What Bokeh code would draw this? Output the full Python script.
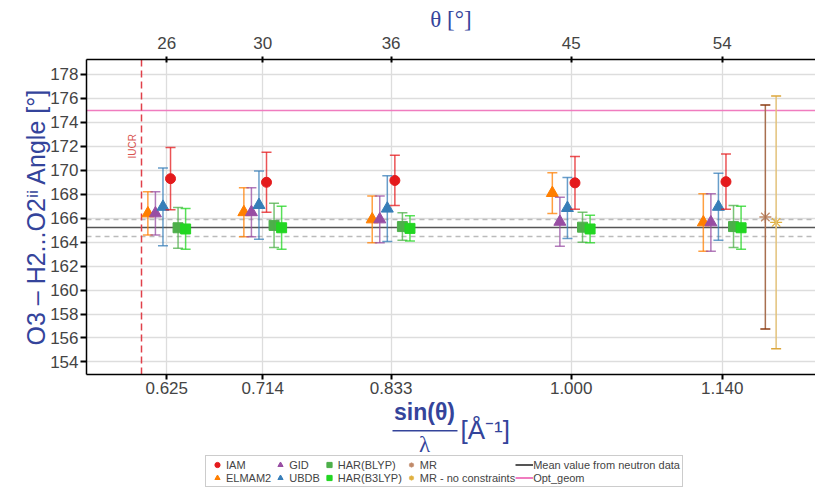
from bokeh.plotting import figure
from bokeh.layouts import column
from bokeh.models import (ColumnDataSource, Whisker, TeeHead, LinearAxis, FixedTicker,
                          Range1d, Legend, LegendItem, Label, BoxAnnotation, NumeralTickFormatter)
from bokeh.embed import file_html
from bokeh.resources import INLINE

# ---------------- data ----------------
sintl = [0.625, 0.714, 0.833, 1.000, 1.140]          # sin(theta)/lambda
theta_labels = ["26", "30", "36", "45", "54"]         # theta [deg]
y_ticks = [154, 156, 158, 160, 162, 164, 166, 168, 170, 172, 174, 176, 178]

iam = [169.3, 169.0, 169.15, 168.95, 169.05]
iam_err = [2.6, 2.5, 2.1, 2.2, 2.3]
elmam2 = [166.4, 166.5, 165.9, 168.1, 165.65]
elmam2_err = [1.8, 2.05, 1.95, 1.7, 2.4]
gid = [166.4, 166.5, 165.9, 165.7, 165.65]
gid_err = [1.8, 2.05, 1.95, 2.05, 2.4]
ubdb = [166.95, 167.1, 166.8, 166.85, 166.95]
ubdb_err = [3.25, 2.85, 2.75, 2.55, 2.8]
har_blyp = [165.2, 165.4, 165.3, 165.25, 165.3]
har_blyp_err = [1.7, 1.85, 1.15, 1.25, 1.75]
har_b3lyp = [165.1, 165.2, 165.15, 165.1, 165.2]
har_b3lyp_err = [1.7, 1.8, 1.05, 1.15, 1.8]

mr_x = [1.18]
mr = [166.1]
mr_err = [9.35]
mr_nc_x = [1.19]
mr_nc = [165.65]
mr_nc_err = [10.55]

mean_neutron = 165.2
mean_neutron_sd = 0.7
opt_geom = 175.0
iucr_limit = 0.602

dodge = 0.007

font = "Liberation Sans"
blue_txt = "#34449b"
NAN = float("nan")

# ---------------- main figure ----------------
p = figure(width=815, height=400, output_backend="svg", toolbar_location=None,
           x_range=Range1d(0.5506, 1.2265), y_range=Range1d(152.95, 179.25),
           min_border_left=86, min_border_right=0, min_border_top=59, min_border_bottom=26,
           title=None)
p.outline_line_color = None
p.background_fill_color = "white"
p.border_fill_color = "white"

p.xgrid.ticker = FixedTicker(ticks=sintl)
p.ygrid.ticker = FixedTicker(ticks=y_ticks)
for g in (p.xgrid, p.ygrid):
    g.grid_line_color = "#dddddd"
    g.grid_line_width = 1.3

xa = p.xaxis[0]
xa.ticker = FixedTicker(ticks=sintl)
xa.formatter = NumeralTickFormatter(format="0.000")
xa.major_label_text_font = font
xa.major_label_text_font_size = "17px"
xa.major_tick_out = 5
xa.major_tick_in = 0
xa.major_tick_line_width = 2
xa.major_label_standoff = 2
xa.minor_tick_line_color = None
xa.axis_line_width = 1.5

ya = p.yaxis[0]
ya.ticker = FixedTicker(ticks=y_ticks)
ya.major_label_text_font = font
ya.major_label_text_font_size = "17px"
ya.major_tick_out = 6
ya.major_tick_in = 0
ya.major_tick_line_width = 2
ya.major_label_standoff = 2
ya.minor_tick_line_color = None
ya.axis_line_width = 1.5
ya.axis_label = "O3 – H2...O2ⁱⁱ Angle [°]"
ya.axis_label_text_font = font
ya.axis_label_text_font_size = "25px"
ya.axis_label_text_font_style = "normal"
ya.axis_label_text_color = blue_txt
ya.axis_label_standoff = -3

ta = LinearAxis(ticker=FixedTicker(ticks=sintl),
                major_label_overrides={v: t for v, t in zip(sintl, theta_labels)},
                axis_label="θ [°]")
ta.major_label_text_font = font
ta.major_label_text_font_size = "17px"
ta.major_tick_out = 3
ta.major_tick_in = 3
ta.major_tick_line_width = 2
ta.major_label_standoff = 8
ta.minor_tick_line_color = None
ta.axis_line_width = 1.5
ta.axis_label_text_font = "Liberation Serif"
ta.axis_label_text_font_size = "23px"
ta.axis_label_text_font_style = "normal"
ta.axis_label_text_color = blue_txt
ta.axis_label_standoff = 2
p.add_layout(ta, "above")

# reference lines
c_dash, c_mean, c_opt = "#bbbbbb", "#555555", "#f07cbf"
p.hspan(y=[mean_neutron + mean_neutron_sd, mean_neutron - mean_neutron_sd],
        line_color=c_dash, line_width=1.5, line_dash="5 4")
p.hspan(y=[mean_neutron], line_color=c_mean, line_width=1.5)
p.hspan(y=[opt_geom], line_color=c_opt, line_width=1.6)
p.vspan(x=[iucr_limit], line_color="#e0404a", line_width=1.5, line_dash="7 4")
p.add_layout(Label(x=iucr_limit - 0.0085, y=172.0, text="IUCR", angle=90, angle_units="deg",
                   text_color="#d9534f", text_font=font, text_font_size="10px",
                   text_align="center", text_baseline="middle"))

series = [
    ("ELMAM2", elmam2, elmam2_err, "#ff7f00", "triangle", 12),
    ("GID", gid, gid_err, "#984ea3", "triangle", 12),
    ("UBDB", ubdb, ubdb_err, "#377eb8", "triangle", 12),
    ("IAM", iam, iam_err, "#e41a1c", "circle", 10),
    ("HAR(BLYP)", har_blyp, har_blyp_err, "#4daf4a", "square", 10),
    ("HAR(B3LYP)", har_b3lyp, har_b3lyp_err, "#22d622", "square", 10),
]
style = {}
for i, (name, vals, errs, col, mk, sz) in enumerate(series):
    off = (i - 2.5) * dodge
    xs = [x + off for x in sintl]
    src = ColumnDataSource(dict(x=xs, y=vals,
                                lower=[v - e for v, e in zip(vals, errs)],
                                upper=[v + e for v, e in zip(vals, errs)]))
    w = Whisker(source=src, base="x", lower="lower", upper="upper", dimension="height",
                line_color=col, line_alpha=0.75, line_width=1.5, level="glyph",
                upper_head=TeeHead(size=10, line_color=col, line_alpha=0.75, line_width=1.5),
                lower_head=TeeHead(size=10, line_color=col, line_alpha=0.75, line_width=1.5))
    p.add_layout(w)
    p.scatter("x", "y", source=src, marker=mk, size=sz, fill_color=col, line_color=col)
    style[name] = dict(marker=mk, fill_color=col, line_color=col)

for name, xs, vals, errs, col_line, col_cap, col_mk in [
        ("MR", mr_x, mr, mr_err, "#a86f50", "#8b3a10", "#c08a6a"),
        ("MR - no constraints", mr_nc_x, mr_nc, mr_nc_err, "#e3c27a", "#dca63a", "#e0b040")]:
    src = ColumnDataSource(dict(x=xs, y=vals,
                                lower=[v - e for v, e in zip(vals, errs)],
                                upper=[v + e for v, e in zip(vals, errs)]))
    w = Whisker(source=src, base="x", lower="lower", upper="upper", dimension="height",
                line_color=col_line, line_width=1.5, level="glyph",
                upper_head=TeeHead(size=10, line_color=col_cap, line_width=1.5),
                lower_head=TeeHead(size=10, line_color=col_cap, line_width=1.5))
    p.add_layout(w)
    p.scatter("x", "y", source=src, marker="asterisk", size=12, line_color=col_mk, line_width=1.3)
    style[name] = dict(marker="asterisk", line_color=col_mk, line_width=1.3)

# ---------------- lower strip: x-axis title (fraction) + legend ----------------
H2 = 88
q = figure(width=815, height=H2, output_backend="svg", toolbar_location=None,
           x_range=Range1d(86, 815), y_range=Range1d(H2, 0),
           x_axis_type=None, y_axis_type=None, title=None,
           min_border_left=86, min_border_right=0, min_border_top=0, min_border_bottom=0)
q.grid.visible = False
q.outline_line_color = None
q.background_fill_color = "white"
q.border_fill_color = "white"

q.add_layout(Label(x=424, y=-2, text="sin(θ)", text_font=font, text_font_size="23px",
                   text_font_style="bold", text_color=blue_txt,
                   text_align="center", text_baseline="top"))
q.add_layout(BoxAnnotation(left=392, right=457, top=29.5, bottom=31,
                           fill_color=blue_txt, fill_alpha=1, line_color=None))
q.add_layout(Label(x=424, y=31, text="λ", text_font="Liberation Serif", text_font_size="23px",
                   text_color=blue_txt, text_align="center", text_baseline="top"))
q.add_layout(Label(x=460, y=29, text="[Å⁻¹]", text_font=font, text_font_size="26px",
                   text_color=blue_txt, text_align="left", text_baseline="middle"))

order = ["IAM", "ELMAM2", "GID", "UBDB", "HAR(BLYP)", "HAR(B3LYP)", "MR", "MR - no constraints"]
items = []
for n in order:
    r = q.scatter(x=[NAN], y=[NAN], **style[n])
    items.append(LegendItem(label=n, renderers=[r]))
items.append(LegendItem(label="Mean value from neutron data",
                        renderers=[q.line(x=[NAN, NAN], y=[NAN, NAN], line_color=c_mean, line_width=2)]))
items.append(LegendItem(label="Opt_geom",
                        renderers=[q.line(x=[NAN, NAN], y=[NAN, NAN], line_color=c_opt, line_width=2)]))
legend = Legend(items=items, location=(205 - 86, 1), orientation="vertical", nrows=2,
                label_text_font=font, label_text_font_size="11px", label_text_line_height=0.9,
                label_height=10, glyph_height=13, glyph_width=18, label_standoff=0,
                spacing=0, padding=2, margin=0,
                border_line_color="#999999", border_line_width=1,
                background_fill_color="white", background_fill_alpha=1)
q.add_layout(legend, "center")

layout = column(p, q, spacing=0)
open("out.html", "w").write(file_html(layout, INLINE))
